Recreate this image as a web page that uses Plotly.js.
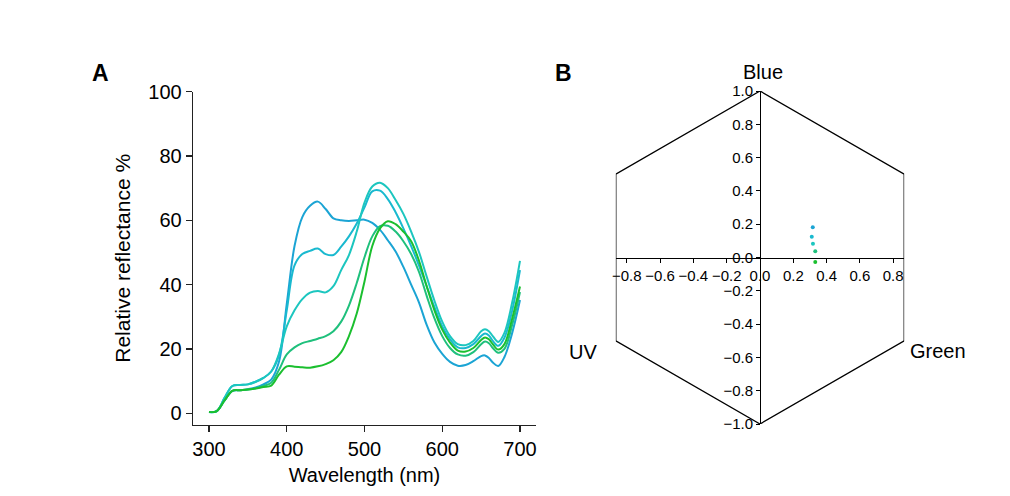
<!DOCTYPE html>
<html>
<head>
<meta charset="utf-8">
<script src="https://cdn.plot.ly/plotly-3.0.1.min.js"></script>
<style>html,body{margin:0;padding:0;background:#fff;}#chart{width:1010px;height:496px;}</style>
</head>
<body>
<div id="chart"></div>
<script>
// Panel A: reflectance spectra
var wavelength = [300,310,320,330,340,350,360,370,380,390,400,410,420,430,440,450,460,470,480,490,500,510,520,530,540,550,560,570,580,590,600,610,620,630,640,650,655,660,665,672,680,690,700];
var spectrum1 = [0.4,0.7,4,7,7.2,7.5,8,9,10.5,16,34,52,61,64.5,65.8,63.5,60.6,60,59.8,60,60.2,59.2,57,53.8,50.3,45.5,40,34.5,27.5,22,18.5,16,14.8,15,16.2,17.8,18,17.2,15.8,14.7,17.5,25,35.2];
var spectrum2 = [0.4,0.7,4.8,8.5,8.8,9,9.8,11,13,18,32,46,49.5,50.5,51.2,49.5,49.2,51.8,55,59,64,69,69.2,66.6,62.5,57.5,52,46,39.5,33,27,23,20.5,20.3,21.5,24,24.8,24.2,22.5,21,23.5,32,44.5];
var spectrum3 = [0.4,0.7,4.8,8.5,8.8,9,9.8,11,13,18.5,27,32,35.5,37.5,38,37.6,39.5,44.5,49.2,56.5,65.5,70.5,71.7,70,66.3,62,56.5,50.2,42.5,35,28.5,24,21.5,21.2,22.5,25.5,26.1,25.5,24,22.2,25,34.5,47.4];
var spectrum4 = [0.4,0.7,4,7,7.2,7.4,7.8,8.5,9.5,13.5,18.3,20.5,21.8,22.5,23.2,24,25.5,28.5,33.5,40.5,48.5,55,58.2,58.3,56.5,53.5,49.5,44,36.5,29.5,24,20.3,18.3,17.9,19,21.5,22.3,21.8,20.3,18.8,20,27.5,37.7];
var spectrum5 = [0.4,0.7,4,7,7.2,7.4,7.7,8.2,8.6,12,14.6,14.5,14.3,14.2,14.6,15.3,16.5,19,24,31,41,52,57.5,59.7,58.8,56.5,53.5,47.5,39.5,32,26,22,19.5,19.2,20.3,22.8,23.6,23,21.5,19.8,21.5,29.5,39.4];
var spectra = [spectrum1, spectrum2, spectrum3, spectrum4, spectrum5];
var colors = ['#1ba4d4', '#19b9cf', '#1cc6bf', '#1fc07c', '#1bbf2f'];

// Panel B: colour hexagon
var hexX = [0, 0.866, 0.866, 0, -0.866, -0.866, 0];
var hexY = [1, 0.5, -0.5, -1, -0.5, 0.5, 1];
var pointX = [0.317, 0.311, 0.318, 0.332, 0.332];
var pointY = [0.181, 0.125, 0.083, 0.037, -0.027];
var xTicksB = [-0.8,-0.6,-0.4,-0.2,0,0.2,0.4,0.6,0.8];
var yTicksB = [-1,-0.8,-0.6,-0.4,-0.2,0,0.2,0.4,0.6,0.8,1];
var yTicksA = [0,20,40,60,80,100];
var xTicksA = [300,400,500,600,700];

var FONT = 'Liberation Sans, Arial, sans-serif';
var traces = [];
for (var i = 0; i < spectra.length; i++) {
  traces.push({
    x: wavelength, y: spectra[i], xaxis: 'x', yaxis: 'y',
    type: 'scatter', mode: 'lines',
    line: {color: colors[i], width: 2, shape: 'spline', smoothing: 1},
    hoverinfo: 'skip'
  });
}
traces.push({
  x: hexX, y: hexY, xaxis: 'x2', yaxis: 'y2', type: 'scatter', mode: 'lines',
  line: {color: '#000', width: 1.3}, cliponaxis: false, hoverinfo: 'skip'
});
traces.push({
  x: pointX, y: pointY, xaxis: 'x2', yaxis: 'y2', type: 'scatter', mode: 'markers',
  marker: {color: colors, size: 4}, cliponaxis: false, hoverinfo: 'skip'
});

var W = 1010, H = 496;
function label(text, px, py, size) {
  return {text: text, x: px/W, y: (H-py)/H, xref: 'paper', yref: 'paper',
          xanchor: 'center', yanchor: 'middle', showarrow: false,
          font: {size: size, family: FONT, color: '#000'}};
}
var layout = {
  width: W, height: H,
  margin: {l: 0, r: 0, t: 0, b: 0},
  paper_bgcolor: '#fff', plot_bgcolor: 'rgba(0,0,0,0)',
  showlegend: false,
  font: {family: FONT, color: '#000'},
  xaxis: {
    domain: [193/W, 536/W], range: [279.4, 720.6], anchor: 'y',
    showgrid: false, zeroline: false, showline: true, linecolor: '#222', linewidth: 1.3,
    ticks: 'outside', ticklen: 6, tickwidth: 1.3, tickcolor: '#222',
    tickvals: xTicksA, tickfont: {size: 20, family: FONT},
    title: {text: 'Wavelength (nm)', font: {size: 20, family: FONT}, standoff: 8}
  },
  yaxis: {
    domain: [(H-425)/H, (H-91.6)/H], range: [-3.63, 100], anchor: 'x',
    showgrid: false, zeroline: false, showline: true, linecolor: '#222', linewidth: 1.3,
    ticks: 'outside', ticklen: 6, tickwidth: 1.3, tickcolor: '#222',
    tickvals: yTicksA, tickfont: {size: 20, family: FONT},
    title: {text: 'Relative reflectance %', font: {size: 21, family: FONT}, standoff: 12}
  },
  xaxis2: {
    domain: [(760-0.866*166.5)/W, (760+0.866*166.5)/W], range: [-0.866, 0.866],
    anchor: 'free', position: (H-257.5)/H,
    showgrid: false, zeroline: false, showline: true, linecolor: '#000', linewidth: 1.3,
    ticks: 'outside', ticklen: 4, tickwidth: 1, tickcolor: '#000',
    tickvals: xTicksB, tickformat: '.1f', tickfont: {size: 15, family: FONT}
  },
  yaxis2: {
    domain: [(H-424)/H, (H-91)/H], range: [-1, 1],
    anchor: 'free', position: 760/W,
    showgrid: false, zeroline: false, showline: true, linecolor: '#000', linewidth: 1.3,
    ticks: 'outside', ticklen: 4, tickwidth: 1, tickcolor: '#000',
    tickvals: yTicksB, tickformat: '.1f', tickfont: {size: 15, family: FONT}
  },
  annotations: [
    label('<b>A</b>', 100, 73, 23),
    label('<b>B</b>', 563, 73, 23),
    label('Blue', 763, 72, 20),
    label('UV', 583, 352, 20),
    label('Green', 938, 351, 20)
  ]
};
Plotly.newPlot('chart', traces, layout, {displayModeBar: false, staticPlot: true});
</script>
</body>
</html>
